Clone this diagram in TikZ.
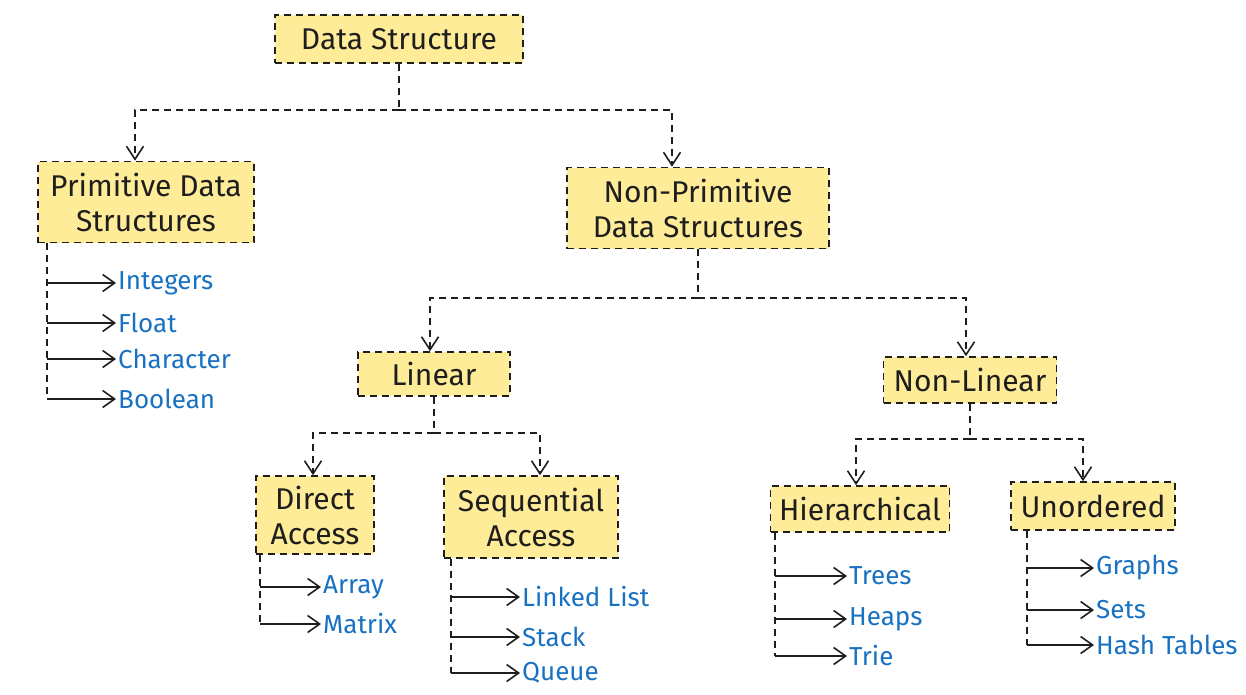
\documentclass[tikz,border=0pt]{standalone}
\usepackage{fontspec}
\setmainfont{Fira Sans}
\usetikzlibrary{arrows.meta}
\definecolor{boxfill}{HTML}{FFEC99}
\definecolor{leafblue}{HTML}{1971C2}
\definecolor{ink}{HTML}{1E1E1E}
\tikzset{
  box/.style={draw=ink, line width=1.6pt, dash pattern=on 7pt off 5pt, fill=boxfill,
    align=center, inner sep=0pt, text=ink, font=\fontsize{30}{35}\selectfont},
  leaf/.style={anchor=west, inner sep=2pt, text=leafblue, font=\fontsize{26}{28}\selectfont},
  trunk/.style={draw=ink, line width=1.6pt, dash pattern=on 7pt off 5pt},
  conn/.style={trunk, -{Straight Barb[length=13pt,width=17pt,line width=1.6pt]}},
  branch/.style={draw=ink, line width=1.6pt, -{Straight Barb[length=12pt,width=17pt,line width=1.6pt]}}
}
\begin{document}
\begin{tikzpicture}[x=1pt,y=-1pt]
\useasboundingbox (0,0) rectangle (1246,694);
%boxes
\node[box,minimum width=248,minimum height=48] (ds) at (399,39) {Data Structure};
\node[box,minimum width=216,minimum height=81] (prim) at (146,202) {Primitive Data\\Structures};
\node[box,minimum width=262,minimum height=81] (nprim) at (698,208) {Non-Primitive\\Data Structures};
\node[box,minimum width=152,minimum height=44] (lin) at (434,374) {Linear};
\node[box,minimum width=173,minimum height=46] (nlin) at (970,380) {Non-Linear};
\node[box,minimum width=118,minimum height=78] (dir) at (315,515) {Direct\\Access};
\node[box,minimum width=174,minimum height=82] (seq) at (531,517) {Sequential\\Access};
\node[box,minimum width=179,minimum height=46] (hier) at (860,509) {Hierarchical};
\node[box,minimum width=164,minimum height=48] (unord) at (1093,506) {Unordered};
%junctions
\coordinate (j1) at (399,110);
\coordinate (j2) at (698,298);
\coordinate (j3) at (434,433);
\coordinate (j4) at (970,439);
\draw[trunk] (ds.south) -- (j1);
\draw[conn] (j1) -| ([xshift=-11]prim.north);
\draw[conn] (j1) -| ([xshift=-26]nprim.north);
\draw[trunk] (nprim.south) -- (j2);
\draw[conn] (j2) -| ([xshift=-4]lin.north);
\draw[conn] (j2) -| ([xshift=-4]nlin.north);
\draw[trunk] (lin.south) -- (j3);
\draw[conn] (j3) -| ([xshift=-2]dir.north);
\draw[conn] (j3) -| ([xshift=9]seq.north);
\draw[trunk] (nlin.south) -- (j4);
\draw[conn] (j4) -| ([xshift=-4]hier.north);
\draw[conn] (j4) -| ([xshift=-10]unord.north);
%primitive leaves
\node[leaf] (int) at (116,283) {Integers};
\node[leaf] (flt) at (116,323) {Float};
\node[leaf] (chr) at (116,359) {Character};
\node[leaf] (bool) at (116,399) {Boolean};
\coordinate (pt) at ([xshift=10]prim.south west);
\draw[trunk] (pt) -- (pt |- bool.west);
\foreach \n in {int,flt,chr,bool} \draw[branch] (pt |- \n.west) -- (\n.west);
%direct access leaves
\node[leaf] (arr) at (321,587) {Array};
\node[leaf] (mat) at (321,624) {Matrix};
\coordinate (dt) at ([xshift=5]dir.south west);
\draw[trunk] (dt) -- (dt |- mat.west);
\foreach \n in {arr,mat} \draw[branch] (dt |- \n.west) -- (\n.west);
%sequential access leaves
\node[leaf] (ll) at (520,597) {Linked List};
\node[leaf] (stk) at (520,637) {Stack};
\node[leaf] (que) at (520,673) {Queue};
\coordinate (st) at ([xshift=8]seq.south west);
\draw[trunk] (st) -- (st |- que.west);
\foreach \n in {ll,stk,que} \draw[branch] (st |- \n.west) -- (\n.west);
%hierarchical leaves
\node[leaf] (tree) at (847,576) {Trees};
\node[leaf] (heap) at (847,619) {Heaps};
\node[leaf] (trie) at (847,656) {Trie};
\coordinate (ht) at ([xshift=5]hier.south west);
\draw[trunk] (ht) -- (ht |- trie.west);
\foreach \n in {tree,heap,trie} \draw[branch] (ht |- \n.west) -- (\n.west);
%unordered leaves
\node[leaf] (grp) at (1094,568) {Graphs};
\node[leaf] (sets) at (1094,610) {Sets};
\node[leaf] (hash) at (1094,645) {Hash Tables};
\coordinate (ut) at ([xshift=17]unord.south west);
\draw[trunk] (ut) -- (ut |- hash.west);
\foreach \n in {grp,sets,hash} \draw[branch] (ut |- \n.west) -- (\n.west);
\end{tikzpicture}
\end{document}
